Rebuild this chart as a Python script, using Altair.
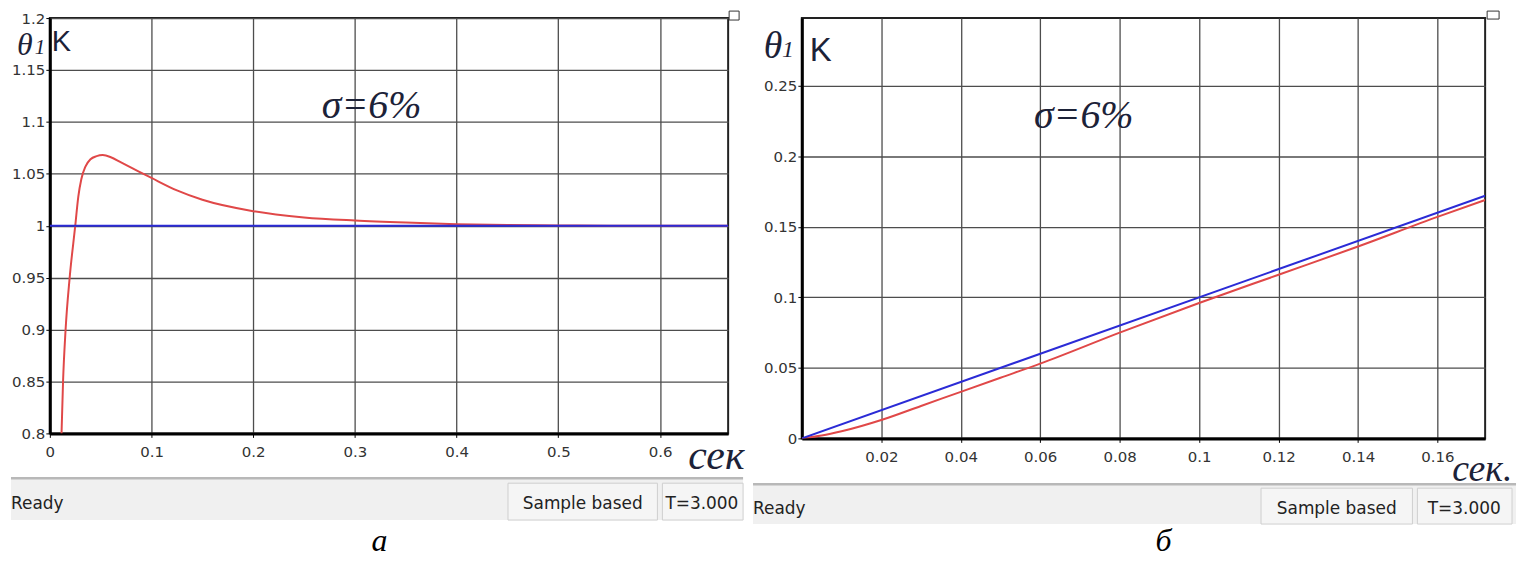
import altair as alt
import pandas as pd

# ---------------- Panel "а" (step response) ----------------
a_time_red = [0.0115, 0.0130, 0.0155, 0.0195, 0.0250, 0.0280, 0.0310, 0.0350, 0.040, 0.046, 0.052,
              0.060, 0.070, 0.080, 0.100, 0.125, 0.150, 0.200, 0.250, 0.300, 0.350,
              0.400, 0.450, 0.500, 0.550, 0.667]
a_theta_red = [0.80, 0.85, 0.90, 0.95, 1.00, 1.028, 1.045, 1.057, 1.064, 1.067, 1.068,
               1.066, 1.061, 1.056, 1.046, 1.034, 1.025, 1.014, 1.008, 1.005, 1.003,
               1.0015, 1.0007, 1.0003, 1.0, 1.0]
a_time_blue = [0.0, 0.667]
a_theta_blue = [1.0, 1.0]
a_xticks = [0, 0.1, 0.2, 0.3, 0.4, 0.5, 0.6]
a_yticks = [0.8, 0.85, 0.9, 0.95, 1.0, 1.05, 1.1, 1.15, 1.2]

# ---------------- Panel "б" (ramp response) ----------------
b_time_red = [0, 0.005, 0.01, 0.02, 0.03, 0.04, 0.05, 0.06, 0.08, 0.10, 0.12, 0.14, 0.16, 0.172]
b_theta_red = [0, 0.002, 0.005, 0.013, 0.023, 0.033, 0.043, 0.053, 0.075, 0.096, 0.116, 0.136, 0.157, 0.169]
b_time_blue = [0, 0.172]
b_theta_blue = [0, 0.172]
b_xticks = [0.02, 0.04, 0.06, 0.08, 0.1, 0.12, 0.14, 0.16]
b_yticks = [0, 0.05, 0.1, 0.15, 0.2, 0.25]

RED = "#e04848"
BLUE = "#2b2bd6"
INK = "#1c2238"
SERIF = "Liberation Serif"
SANS = "DejaVu Sans"

one = alt.Data(values=[{"k": 0}])


def txt(s, x, y, size, font=SERIF, style="italic", align="left", baseline="alphabetic", color=INK):
    return alt.Chart(one).mark_text(
        text=s, fontSize=size, font=font, fontStyle=style, align=align,
        baseline=baseline, color=color
    ).encode(x=alt.value(x), y=alt.value(y))


def box(x1, x2, y1, y2, fill, stroke=None, sw=1):
    kw = dict(fill=fill)
    if stroke:
        kw.update(stroke=stroke, strokeWidth=sw)
    return alt.Chart(one).mark_rect(**kw).encode(
        x=alt.value(x1), x2=alt.value(x2), y=alt.value(y1), y2=alt.value(y2))


def hline(x1, x2, y, color, w):
    return alt.Chart(one).mark_rule(color=color, strokeWidth=w).encode(
        x=alt.value(x1), x2=alt.value(x2), y=alt.value(y))


def panel(t_red, v_red, t_blue, v_blue, xdom, ydom, xticks, yticks, W, H, deco, miny):
    red_df = pd.DataFrame({"t": t_red, "v": v_red})
    blue_df = pd.DataFrame({"t": t_blue, "v": v_blue})
    xs = alt.Scale(domain=xdom, nice=False, zero=False)
    ys = alt.Scale(domain=ydom, nice=False, zero=False)
    xa = alt.Axis(values=xticks, format="~g", title=None, labelFlush=False,
                  grid=True, labelPadding=7, tickSize=4)
    ya = alt.Axis(values=yticks, format="~g", title=None, labelFlush=False,
                  grid=True, labelPadding=1, tickSize=4, minExtent=miny)
    red = alt.Chart(red_df).mark_line(color=RED, strokeWidth=2, interpolate="monotone", clip=True).encode(
        x=alt.X("t:Q", scale=xs, axis=xa), y=alt.Y("v:Q", scale=ys, axis=ya))
    blue = alt.Chart(blue_df).mark_line(color=BLUE, strokeWidth=2, clip=True).encode(
        x=alt.X("t:Q", scale=xs), y=alt.Y("v:Q", scale=ys))
    return alt.layer(red, blue, *deco).properties(width=W, height=H)


# decorations, panel а (origin at plot top-left)
deco_a = [
    txt("θ", -25, 37, 32, align="center"),
    txt("1", -10, 36, 21, align="center"),
    txt("K", 2, 33, 29, font="Liberation Sans", style="normal"),
    txt("σ=6%", 273, 100, 40),
    txt("сек", 641, 453, 42),
    box(-39, 696, 462, 504, "#f0f0f0"),
    hline(-39, 696, 462, "#b8b8b8", 2.5),
    txt("Ready", -39, 488, 17, font=SANS, style="normal", baseline="middle", color="#222"),
    box(460, 610, 467, 504, "#f5f5f5", "#cfcfcf"),
    txt("Sample based", 535, 488, 17, font=SANS, style="normal", align="center", baseline="middle", color="#222"),
    box(615, 696, 467, 504, "#f5f5f5", "#cfcfcf"),
    txt("T=3.000", 618, 488, 17, font=SANS, style="normal", baseline="middle", color="#222"),
    box(682, 692, -7, 2, "#ffffff", "#333", 1),
    txt("а", 323, 535, 32, color="#000"),
]

# decorations, panel б
deco_b = [
    txt("θ", -29, 40, 38, align="center"),
    txt("1", -14, 39, 24, align="center"),
    txt("K", 8, 43, 33, font="Liberation Sans", style="normal"),
    txt("σ=6%", 233, 110, 40),
    txt("сек.", 653, 465, 38),
    box(-49, 717, 468, 508, "#f0f0f0"),
    hline(-49, 717, 468, "#b8b8b8", 2.5),
    txt("Ready", -49, 493, 17, font=SANS, style="normal", baseline="middle", color="#222"),
    box(461, 613, 472, 508, "#f5f5f5", "#cfcfcf"),
    txt("Sample based", 537, 493, 17, font=SANS, style="normal", align="center", baseline="middle", color="#222"),
    box(618, 713, 472, 508, "#f5f5f5", "#cfcfcf"),
    txt("T=3.000", 665, 493, 17, font=SANS, style="normal", align="center", baseline="middle", color="#222"),
    box(688, 700, -7, 1, "#ffffff", "#333", 1),
    txt("б", 355, 535, 32, color="#000"),
]

left = panel(a_time_red, a_theta_red, a_time_blue, a_theta_blue, [0, 0.667], [0.8, 1.2],
             a_xticks, a_yticks, 681, 417, deco_a, 39)
right = panel(b_time_red, b_theta_red, b_time_blue, b_theta_blue, [0, 0.172], [0, 0.298],
              b_xticks, b_yticks, 686, 422, deco_b, 0)

chart = alt.hconcat(left, right, spacing=74, bounds="flush").properties(
    padding={"left": 0, "top": 0, "right": 0, "bottom": 0},
    background="white",
).configure_view(
    stroke="#222", strokeWidth=2
).configure_axis(
    domainColor="#000", domainWidth=3, gridColor="#4d4d4d", gridWidth=1.3,
    labelFont=SANS, labelFontSize=15, labelColor="#333", tickColor="#000"
)

chart.save("out.html", embed_options={"renderer": "svg", "actions": False})
